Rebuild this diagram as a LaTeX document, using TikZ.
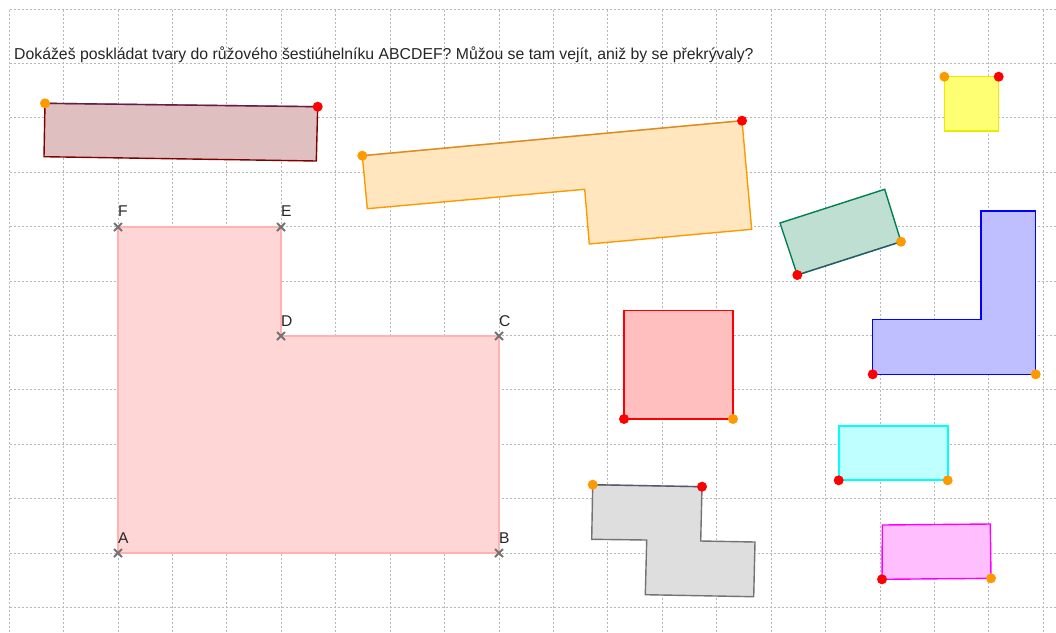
\documentclass[tikz,border=0pt]{standalone}
\usepackage{fontspec}
\setmainfont{Liberation Sans}
\usetikzlibrary{calc}
\begin{document}
\begin{tikzpicture}[x=1pt,y=-1pt,
  gridline/.style={draw=black!28,line width=0.9pt,dash pattern=on 2pt off 2pt},
  poly/.style={line width=1.4pt,line join=miter},
  hexshape/.style={fill=red!16,draw=red!30,line width=1.6pt},
  cross/.style={draw=black!55,line width=1.9pt},
  vlabel/.style={anchor=base west,inner sep=0pt,font=\fontsize{15.6}{17}\selectfont,text=black!85},
  dotred/.style={fill=red},
  dotorange/.style={fill={rgb,255:red,255;green,153;blue,0}},
  seg/.style={line width=1.4pt,opacity=0.55}
]
\definecolor{gbrown}{RGB}{128,0,0}
\definecolor{gorange}{RGB}{255,153,0}
\definecolor{ggreen}{RGB}{0,128,80}
\definecolor{ggray}{RGB}{115,115,115}
\definecolor{gslate}{RGB}{70,60,120}
\definecolor{gcyan}{RGB}{0,255,255}
\definecolor{gmagenta}{RGB}{255,0,255}
\definecolor{gyellow}{RGB}{255,255,0}
\definecolor{gyellowline}{RGB}{235,235,0}
\useasboundingbox (0,0) rectangle (1056,632);
\fill[white] (0,0) rectangle (1056,632);
% grid
\foreach \k in {-2,...,17} { \draw[gridline] ({118+\k*54.43},9.5) -- ({118+\k*54.43},632); }
\foreach \k in {-10,...,1} { \draw[gridline] (9.5,{553+\k*54.4}) -- (1056,{553+\k*54.4}); }
% title
\node[anchor=base west,inner sep=0pt,font=\fontsize{15.8}{17}\selectfont,text=black!85] (title) at (14,59)
  {Dokážeš poskládat tvary do růžového šestiúhelníku ABCDEF? Můžou se tam vejít, aniž by se překrývaly?};
% hexagon
\coordinate (A) at (118,553);
\coordinate (B) at (499,553);
\coordinate (C) at (499,336);
\coordinate (D) at (281,336);
\coordinate (E) at (281,227);
\coordinate (F) at (118,227);
\path[hexshape] (A) -- (B) -- (C) -- (D) -- (E) -- (F) -- cycle;
\foreach \p in {A,B,C,D,E,F} {
  \draw[cross] ($(\p)+(-4,-4)$) -- ($(\p)+(4,4)$) ($(\p)+(-4,4)$) -- ($(\p)+(4,-4)$);
}
\node[vlabel] (lA) at ($(A)+(0,-10)$) {A};
\node[vlabel] (lB) at ($(B)+(0,-10)$) {B};
\node[vlabel] (lC) at ($(C)+(0,-10)$) {C};
\node[vlabel] (lD) at ($(D)+(0,-10)$) {D};
\node[vlabel] (lE) at ($(E)+(0,-11)$) {E};
\node[vlabel] (lF) at ($(F)+(0,-11)$) {F};
% brown rectangle
\draw[poly,draw=gbrown,fill=gbrown!25] (45,103.3) -- (317.7,106.7) -- (316.3,161) -- (44,156.7) -- cycle;
\draw[seg,draw=gslate] (45,103.3) -- (317.7,106.7);
% orange polygon
\draw[poly,draw=gorange,fill=gorange!25] (362.3,155.7) -- (742,120.7) -- (751.7,229.3) -- (589.3,244) -- (584.7,189.3) -- (367.3,208.7) -- cycle;
\draw[seg,draw=brown] (362.3,155.7) -- (742,120.7);
% yellow square
\draw[poly,draw=gyellowline,fill=gyellow!55] (944.3,76.7) -- (998.7,76.7) -- (998.7,131) -- (944.3,131) -- cycle;
% green rectangle
\draw[poly,draw=ggreen,fill=ggreen!25] (797.3,275) -- (901,241.7) -- (884.7,189.3) -- (780,223) -- cycle;
\draw[seg,draw=gslate] (797.3,275) -- (901,241.7);
% blue L
\draw[poly,draw=blue,fill=blue!25] (872.7,374.3) -- (1035.7,374.3) -- (1035.7,211) -- (981,211) -- (981,319.7) -- (872.7,319.7) -- cycle;
% red square
\draw[poly,draw=red,fill=red!25] (624,419) -- (733,419) -- (733,310.3) -- (624,310.3) -- cycle;
% gray shape
\draw[poly,draw=ggray,fill=black!13] (592.7,484.7) -- (702,486.7) -- (700.7,541) -- (755,542) -- (753.7,596.7) -- (645.3,594.7) -- (646.7,540) -- (591.7,539.3) -- cycle;
\draw[seg,draw=gslate] (592.7,484.7) -- (702,486.7);
% cyan rectangle
\draw[poly,draw=gcyan,line width=1.8pt,fill=gcyan!25] (838.7,480.3) -- (947.7,480.3) -- (947.7,425.7) -- (838.7,425.7) -- cycle;
% magenta rectangle
\draw[poly,draw=gmagenta,fill=gmagenta!25] (882,579.3) -- (991,578.3) -- (990.3,524) -- (882.3,525) -- cycle;
% points
\foreach \x/\y in {45/103.3,362.3/155.7,944.3/76.7,901/241.7,1035.7/374.3,733/419,592.7/484.7,947.7/480.3,991/578.3}
  \fill[dotorange] (\x,\y) circle (5);
\foreach \x/\y in {317.7/106.7,742/120.7,998.7/76.7,797.3/275,872.7/374.3,624/419,702/486.7,838.7/480.3,882/579.3}
  \fill[dotred] (\x,\y) circle (5);
\end{tikzpicture}
\end{document}
